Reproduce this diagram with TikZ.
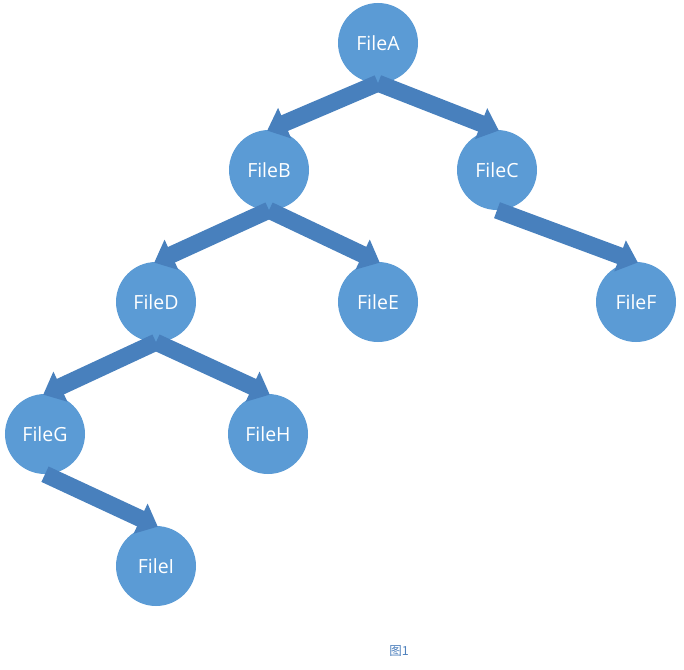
\documentclass[tikz,border=0pt]{standalone}
\usepackage{fontspec}
\setmainfont{Open Sans}
\newfontfamily\cjk{Noto Sans CJK SC}
\usetikzlibrary{arrows.meta}
\definecolor{nodeblue}{RGB}{91,155,213}
\definecolor{linkblue}{RGB}{72,128,189}
\definecolor{capblue}{RGB}{79,129,189}

\begin{document}
\begin{tikzpicture}[x=1bp, y=-1bp,
        file/.style={circle, fill=nodeblue, minimum size=80bp, inner sep=0pt, text=white, font=\fontsize{19.5bp}{23bp}\selectfont},
        link/.style={linkblue, line width=17bp, -{Triangle[length=19bp, width=32bp]}, shorten >=-2bp}]
        \useasboundingbox (0,0) rectangle (684,670);

        % 文件节点 (按层排列)
        \node[file] (A) at (378,43) {FileA};
        \node[file] (B) at (269,170) {FileB};
        \node[file] (C) at (497,170) {FileC};
        \node[file] (D) at (156,302) {FileD};
        \node[file] (E) at (378,302) {FileE};
        \node[file] (F) at (636,302) {FileF};
        \node[file] (G) at (45,434) {FileG};
        \node[file] (H) at (268,434) {FileH};
        \node[file] (I) at (156,566) {FileI};

        % 父节点底部指向子节点顶部
        \draw[link] (A.south) -- (B.north);
        \draw[link] (A.south) -- (C.north);
        \draw[link] (B.south) -- (D.north);
        \draw[link] (B.south) -- (E.north);
        \draw[link] (C.south) -- (F.north);
        \draw[link] (D.south) -- (G.north);
        \draw[link] (D.south) -- (H.north);
        \draw[link] (G.south) -- (I.north);

        % 图题
        \node[text=capblue, font=\cjk\fontsize{12.5bp}{15bp}\selectfont] (cap) at (399,651) {图1};

    \end{tikzpicture}
\end{document}
